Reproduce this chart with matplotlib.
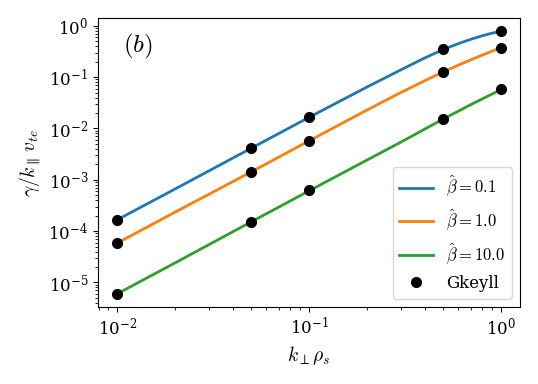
import matplotlib
matplotlib.use("Agg")
import matplotlib.pyplot as plt

plt.rcParams['font.family'] = 'serif'
plt.rcParams['mathtext.fontset'] = 'cm'

# theory curves
k = [0.01, 0.02, 0.05, 0.1, 0.2, 0.3, 0.4, 0.5, 0.6, 0.7, 0.8, 0.9, 1.0]
g_b01 = [1.66e-4, 6.6e-4, 4.13e-3, 0.0165, 0.064, 0.138, 0.236, 0.345,
         0.45, 0.55, 0.64, 0.72, 0.785]
g_b1 = [5.85e-5, 2.34e-4, 1.43e-3, 5.75e-3, 0.0228, 0.05, 0.085, 0.126,
        0.172, 0.22, 0.27, 0.322, 0.375]
g_b10 = [6.0e-6, 2.4e-5, 1.52e-4, 6.1e-4, 2.42e-3, 5.4e-3, 9.7e-3, 0.0153,
         0.0218, 0.0295, 0.0378, 0.047, 0.0575]

# Gkeyll points
k_gk = [0.01, 0.05, 0.1, 0.5, 1.0]
gk_b01 = [1.66e-4, 4.13e-3, 0.0165, 0.35, 0.785]
gk_b1 = [5.85e-5, 1.43e-3, 5.65e-3, 0.126, 0.375]
gk_b10 = [6.0e-6, 1.52e-4, 6.23e-4, 0.0153, 0.0575]

fig = plt.figure(figsize=(5.38, 3.84), dpi=100)
ax = fig.add_axes([0.182, 0.2005, 0.785, 0.7525])

ax.loglog(k, g_b01, lw=2, label=r'$\hat{\beta}=0.1$')
ax.loglog(k, g_b1, lw=2, label=r'$\hat{\beta}=1.0$')
ax.loglog(k, g_b10, lw=2, label=r'$\hat{\beta}=10.0$')
ax.loglog(k_gk, gk_b01, 'ko', ms=7, label='Gkeyll')
ax.loglog(k_gk, gk_b1, 'ko', ms=7)
ax.loglog(k_gk, gk_b10, 'ko', ms=7)

ax.set_xlabel(r'$k_\perp\rho_s$', fontsize=14)
ax.set_ylabel(r'$\gamma/k_\parallel\, v_{te}$', fontsize=14)
ax.tick_params(labelsize=12)
ax.text(0.06, 0.9, r'$(b)$', transform=ax.transAxes, fontsize=18,
        ha='left', va='center')
ax.legend(loc='lower right', fontsize=12)

fig.savefig('out.png', dpi=100)
